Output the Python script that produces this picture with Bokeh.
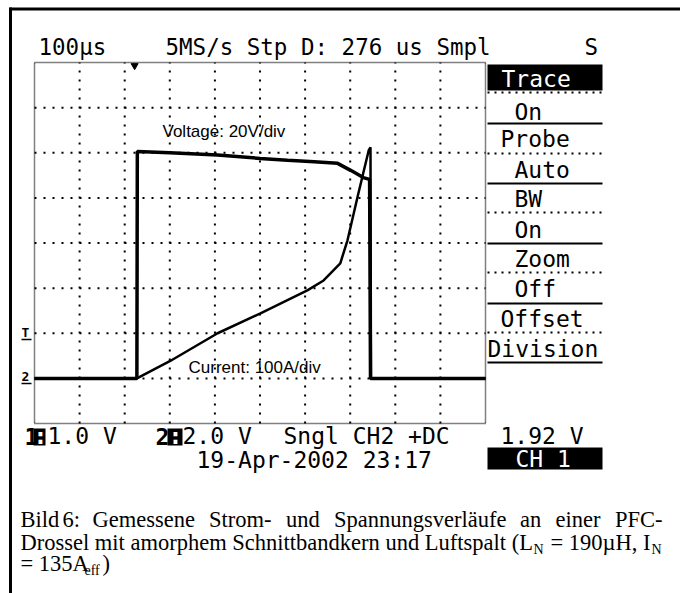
from bokeh.plotting import figure
from bokeh.models import Range1d, Label, ColumnDataSource
from bokeh.embed import file_html
from bokeh.resources import INLINE

time_us_v = [0, 227, 228, 300, 406, 500, 561, 620, 672, 701, 729, 743, 745, 1000]
voltage_V = [0, 0, 100.5, 100, 99, 97.5, 96.7, 96, 95.3, 92.2, 89, 88.2, 0, 0]
time_us_i = [0, 227, 300, 406, 501, 605, 641, 678, 694, 716, 729, 741, 745, 746, 1000]
current_A = [0, 0, 38, 100, 144, 195, 217, 255, 306, 401, 455, 505, 512, 0, 0]
trigger_time_us = [222]
x_ticks_us = [100, 200, 300, 400, 500, 600, 700, 800, 900]
y_ticks_div = [1, 2, 3, 4, 5, 6, 7]
volt_per_div = 20
amp_per_div = 100
us_per_div = 100
ground_div = 1

menu_items = ["On", "Probe", "Auto", "BW", "On", "Zoom", "Off", "Offset", "Division"]

# ---------------- layout (page pixels) ----------------
W, H = 680, 593
GX0, GX1, GY0, GY1 = 34, 485, 62, 423
PXD_X = (GX1 - GX0) / 10.0
PXD_Y = (GY1 - GY0) / 8.0

p = figure(width=W, height=H, output_backend="svg", toolbar_location=None, title=None,
           x_range=Range1d(0, W), y_range=Range1d(H, 0),
           x_axis_location=None, y_axis_location=None,
           min_border=0, background_fill_color="white", border_fill_color="white")
p.outline_line_color = None
p.grid.visible = False

# scope coordinate systems mapped onto the screen area
div_lo = (GY1 - H) / PXD_Y
div_hi = GY1 / PXD_Y
p.extra_x_ranges = {"t": Range1d(-GX0 / PXD_X * us_per_div, (W - GX0) / PXD_X * us_per_div)}
p.extra_y_ranges = {
    "div": Range1d(div_lo, div_hi),
    "volt": Range1d((div_lo - ground_div) * volt_per_div, (div_hi - ground_div) * volt_per_div),
    "amp": Range1d((div_lo - ground_div) * amp_per_div, (div_hi - ground_div) * amp_per_div),
}

# graticule
n = len(x_ticks_us)
p.segment(x0=x_ticks_us, y0=[0] * n, x1=x_ticks_us, y1=[8] * n, x_range_name="t", y_range_name="div",
          line_color="black", line_width=2, line_dash="2 7")
m = len(y_ticks_div)
p.segment(x0=[0] * m, y0=y_ticks_div, x1=[1000] * m, y1=y_ticks_div, x_range_name="t", y_range_name="div",
          line_color="black", line_width=2, line_dash="2 7")
p.quad(left=[0], right=[1000], bottom=[0], top=[8], x_range_name="t", y_range_name="div",
       fill_color=None, line_color="black", line_width=1.5, line_dash="1 1")

src_v = ColumnDataSource(dict(t=time_us_v, v=voltage_V))
src_i = ColumnDataSource(dict(t=time_us_i, i=current_A))
p.line("t", "v", source=src_v, x_range_name="t", y_range_name="volt", line_color="black", line_width=3.5)
p.line("t", "i", source=src_i, x_range_name="t", y_range_name="amp", line_color="black", line_width=2.5)
p.scatter(x=trigger_time_us, y=[7.93], x_range_name="t", y_range_name="div",
          marker="inverted_triangle", size=7, color="black")

MONO = "DejaVu Sans Mono"

def txt(s, px, py, color="black", font=MONO, size=23, style="normal"):
    # py is the intended baseline; compensate the renderer's baseline placement
    p.add_layout(Label(x=px, y=py - 0.36 * size, text=s, text_font=font, text_font_size=f"{size}px",
                       text_color=color, text_baseline="alphabetic", text_align="left",
                       text_font_style=style))

def hline(x0, x1, py, width=2, dash="solid"):
    p.segment(x0=[x0], y0=[py], x1=[x1], y1=[py], line_color="black", line_width=width, line_dash=dash)

def vline(px, y0, y1, width=2, dash="solid"):
    p.segment(x0=[px], y0=[y0], x1=[px], y1=[y1], line_color="black", line_width=width, line_dash=dash)

def box(x0, x1, y0, y1):
    p.quad(left=[x0], right=[x1], top=[y0], bottom=[y1], fill_color="black", line_color=None)

# page frame lines
vline(10, 7, H, width=3)
hline(9, W, 8.5, width=3)

# top status line
txt("100µs", 38, 55, size=22.5)
txt("5MS/s Stp D: 276 us Smpl", 165, 55, size=22.5)
txt("S", 584, 55, size=22.5)

# menu
box(487, 602, 64, 90)
txt("Trace", 501, 87, color="white")
menu_x = [514, 500, 514, 514, 514, 514, 514, 500, 487]
menu_y = [120, 147, 178, 207, 238, 267, 297, 327, 357]
for s, mx, my in zip(menu_items, menu_x, menu_y):
    txt(s, mx, my)
for yy in [92, 153, 212, 272, 332]:
    hline(487, 602, yy, width=2, dash="2 5")
for yy in [123, 183, 243, 303, 362]:
    hline(487, 602, yy, width=2)

# in-screen annotations
txt("Voltage: 20V/div", 162, 137, font="Liberation Sans", size=17)
txt("Current: 100A/div", 188, 373, font="Liberation Sans", size=17)

# left markers
txt("T", 21, 337, size=13, style="bold")
hline(21, 31, 339, width=1.5)
txt("2", 21, 381, size=13, style="bold")
hline(21, 31, 383, width=1.5)

# bottom status
txt("1", 24, 444, style="bold")
box(33, 45, 428, 445)
txt(":", 33, 444, color="white", style="bold")
txt("1.0 V", 47, 444)
txt("2", 155, 444, style="bold")
box(167, 182, 428, 445)
txt(":", 168, 444, color="white", style="bold")
txt("2.0 V", 182, 444)
txt("Sngl CH2 +DC", 283, 444)
txt("1.92 V", 500, 444)
txt("19-Apr-2002 23:17", 196, 468)
box(487, 602, 447, 469)
txt("CH 1", 515, 467, color="white")

# caption
SER = "Liberation Serif"
CS = 22.5
line1_words = ["Bild", "6:", "Gemessene", "Strom-", "und", "Spannungsverläufe", "an", "einer", "PFC-"]
line1_x = [20, 62, 92, 208.5, 285.5, 333.5, 519.5, 555, 614.5]
for w_, xx in zip(line1_words, line1_x):
    txt(w_, xx, 527, font=SER, size=CS)
txt("Drossel mit amorphem Schnittbandkern und Luftspalt (L", 20, 550, font=SER, size=CS)
txt("N", 533, 554, font=SER, size=14)
txt("= 190µH, I", 550, 550, font=SER, size=CS)
txt("N", 651, 554, font=SER, size=14)
txt("= 135A", 20, 571, font=SER, size=CS)
txt("eff", 84, 575, font=SER, size=14)
txt(")", 102, 571, font=SER, size=CS)

open("out.html", "w").write(file_html(p, INLINE))
